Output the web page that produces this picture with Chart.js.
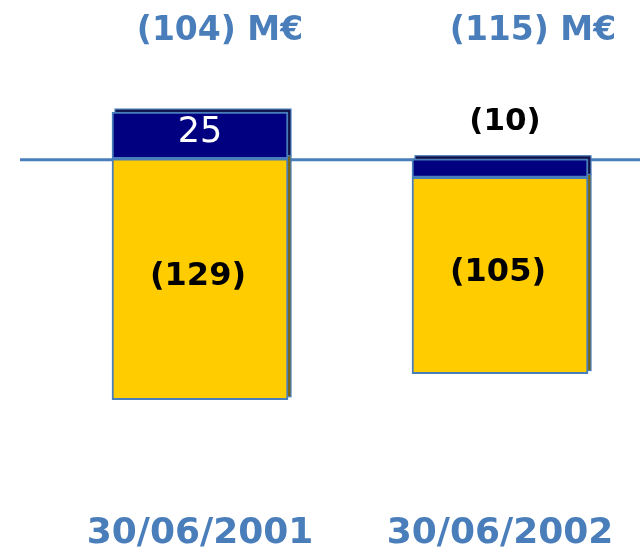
<!DOCTYPE html>
<html>
<head>
<meta charset="utf-8">
<script src="https://cdn.jsdelivr.net/npm/chart.js@4"></script>
<style>
  html, body { margin: 0; padding: 0; background: #ffffff; }
  #wrap { width: 640px; height: 555px; }
</style>
</head>
<body>
<div id="wrap"><canvas id="debtchart"></canvas></div>
<script>
const dates = ["30/06/2001", "30/06/2002"];
const navy_values = [25, -10];
const yellow_values = [-129, -105];

const steel = "#4a7ebb";
const font_name = "'DejaVu Sans', Verdana, sans-serif";
const total_shift = [20, 33];

function paren(v){
    return v < 0 ? "(" + Math.abs(v) + ")" : String(v);
}

// zero line across the page + fake 3D back faces
const backdrop = {
    id: "backdrop",
    beforeDatasetsDraw(chart){
        const ctx = chart.ctx;
        const y0 = chart.scales.y.getPixelForValue(0);
        ctx.save();
        ctx.strokeStyle = steel;
        ctx.lineWidth = 3;
        ctx.beginPath();
        ctx.moveTo(20, y0 + 1);
        ctx.lineTo(chart.width, y0 + 1);
        ctx.stroke();

        const backs = ["#12124a", "#7a6614"];
        chart.data.datasets.forEach((ds, i) => {
            chart.getDatasetMeta(i).data.forEach(bar => {
                const top = Math.min(bar.y, bar.base);
                const h = Math.abs(bar.base - bar.y);
                ctx.fillStyle = backs[i];
                ctx.fillRect(bar.x - bar.width / 2 + 3, top - 3, bar.width, h);
                ctx.strokeStyle = steel;
                ctx.lineWidth = 1.2;
                ctx.strokeRect(bar.x - bar.width / 2 + 3, top - 3, bar.width, h);
            });
        });
        ctx.restore();
    }
};

const value_labels = {
    id: "value_labels",
    afterDatasetsDraw(chart){
        const ctx = chart.ctx;
        ctx.save();
        ctx.textAlign = "center";
        ctx.textBaseline = "middle";

        // navy segment
        chart.getDatasetMeta(0).data.forEach((bar, i) => {
            const v = navy_values[i];
            if (v > 0) {
                ctx.font = "normal 35px " + font_name;
                ctx.fillStyle = "#ffffff";
                ctx.fillText(paren(v), bar.x, (bar.y + bar.base) / 2 - 3);
            } else {
                ctx.font = "bold 31px " + font_name;
                ctx.fillStyle = "#000000";
                ctx.fillText(paren(v), bar.x + 5, bar.base - 37);
            }
        });

        // yellow segment
        chart.getDatasetMeta(1).data.forEach((bar, i) => {
            ctx.font = "bold 32px " + font_name;
            ctx.fillStyle = "#000000";
            ctx.fillText(paren(yellow_values[i]), bar.x - 2, (bar.y + bar.base) / 2 - 3);
        });

        // totals on top
        chart.getDatasetMeta(0).data.forEach((bar, i) => {
            const total = navy_values[i] + yellow_values[i];
            ctx.font = "bold 33px " + font_name;
            ctx.fillStyle = steel;
            ctx.fillText(paren(total) + " M€", bar.x + total_shift[i], 31);
        });
        ctx.restore();
    }
};

new Chart("debtchart", {
    type: "bar",
    data: {
        labels: dates,
        datasets: [
            {
                data: navy_values,
                backgroundColor: "#000080",
                borderColor: steel,
                borderWidth: 2,
                borderSkipped: false,
                barThickness: 176,
                clip: false
            },
            {
                data: yellow_values,
                backgroundColor: "#ffcc00",
                borderColor: steel,
                borderWidth: 2,
                borderSkipped: false,
                barThickness: 176,
                clip: false
            }
        ]
    },
    plugins: [backdrop, value_labels],
    options: {
        responsive: true,
        maintainAspectRatio: false,
        animation: false,
        layout: { padding: { left: 200, right: 140, top: 0, bottom: 0 } },
        plugins: {
            legend: { display: false },
            tooltip: { enabled: false }
        },
        scales: {
            x: {
                stacked: true,
                offset: false,
                grid: { display: false, drawTicks: false },
                border: { display: false },
                ticks: {
                    padding: 0,
                    color: steel,
                    font: { family: font_name, size: 36, weight: "bold" }
                }
            },
            y: {
                stacked: true,
                display: false,
                min: -189,
                max: 85
            }
        }
    }
});
</script>
</body>
</html>
